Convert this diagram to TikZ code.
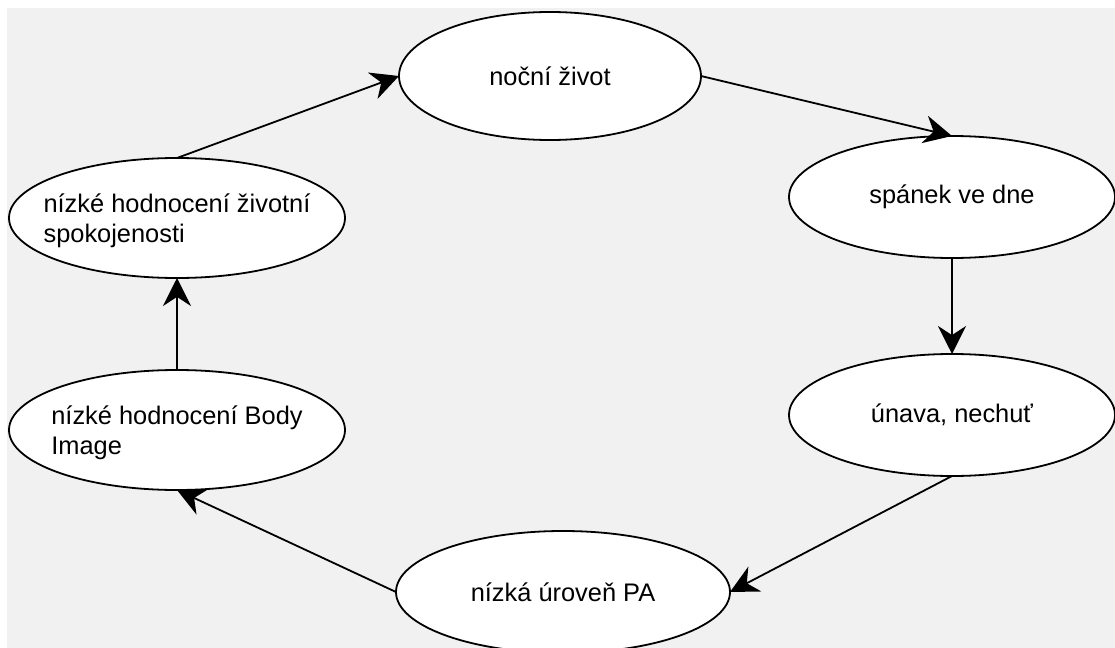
\documentclass[tikz,border=0pt]{standalone}
\usepackage{fontspec}
\setmainfont{Liberation Sans}
\usetikzlibrary{arrows.meta,positioning,shapes.geometric}
\definecolor{bggray}{RGB}{241,241,241}

\begin{document}
\begin{tikzpicture}[
    on grid,
    state/.style={ellipse,draw,line width=0.9pt,fill=white,inner sep=0pt,outer sep=0pt,
        align=left,font=\fontsize{12.7pt}{15pt}\selectfont},
    wide/.style={state,inner xsep=-10pt,text depth=0pt,minimum width=168pt,minimum height=60pt}
]
    \useasboundingbox (0,0) rectangle (557.5pt,-324pt);
    \fill[bggray] (3.5pt,-4pt) rectangle (557.5pt,-324pt);

    \node[wide] (spok) at (88.5pt,-109pt) {nízké hodnocení životní\\spokojenosti};
    \node[state,minimum width=151pt,minimum height=64pt,above right=71pt and 186.5pt of spok] (noc) {noční život};
    \node[state,minimum width=163pt,minimum height=61pt,below right=60.5pt and 201pt of noc] (spanek) {spánek ve dne};
    \node[state,minimum width=163pt,minimum height=61pt,below=109pt of spanek] (unava) {únava, nechuť};
    \node[state,minimum width=167pt,minimum height=61pt,below left=88.5pt and 194.5pt of unava] (pa) {nízká úroveň PA};
    \node[wide,below=106pt of spok] (body) {nízké hodnocení Body\\Image};

    \begin{scope}[line width=0.9pt,-{Stealth[length=14pt,width=14pt]}]
        \draw (spok.north) -- (noc.west);
        \draw (noc.east) -- (spanek.north);
        \draw (spanek.south) -- (unava.north);
        \draw (unava.south) -- (pa.east);
        \draw (pa.west) -- (body.south);
        \draw (body.north) -- (spok.south);
    \end{scope}
\end{tikzpicture}
\end{document}
